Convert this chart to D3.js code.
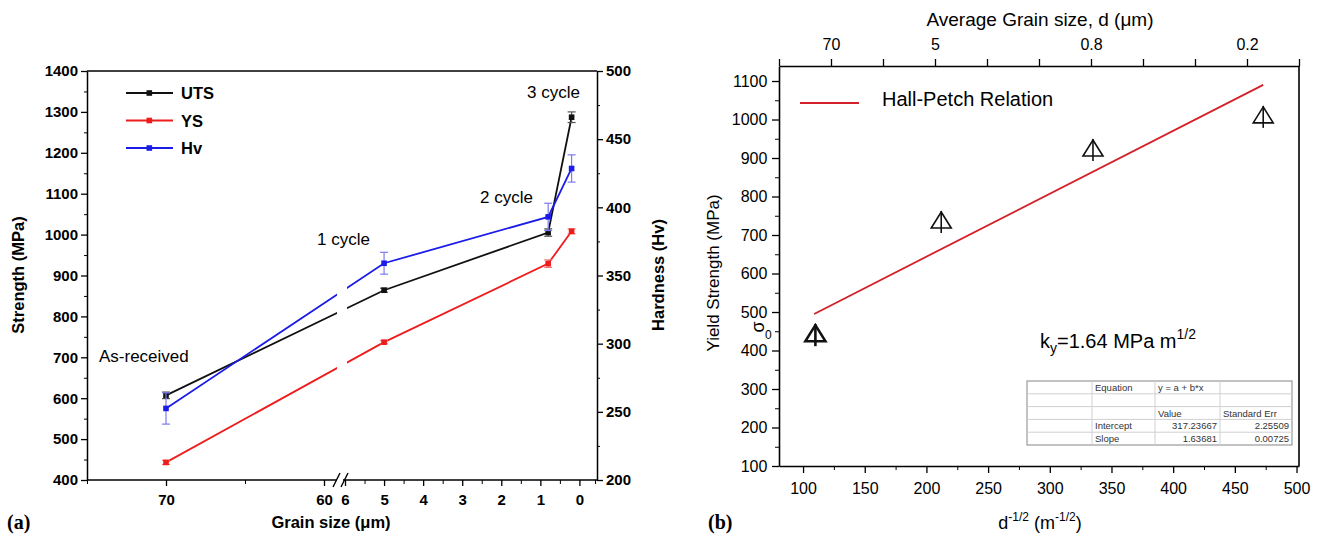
<!DOCTYPE html>
<html><head><meta charset="utf-8">
<script src="https://cdn.jsdelivr.net/npm/d3@7"></script>
<style>
body{margin:0;background:#fff;}
svg{display:block;font-family:Arial,"Liberation Sans",sans-serif;}
</style></head>
<body><svg id="c" width="1325" height="538"></svg>
<script>
// ---------- Data (a) ----------
const grainSizes = [70, 5, 0.8, 0.2];
const stageLabels = ["As-received", "1 cycle", "2 cycle", "3 cycle"];
const utsValues = [607, 864, 1005, 1287];
const utsErrors = [8, 5, 9, 13];
const ysValues = [443, 737, 929, 1008];
const ysErrors = [5, 4, 9, 6];
const hvValues = [252.5, 359, 393, 428.5];
const hvErrors = [11.5, 8, 10, 10];
const strengthTicks = [400,500,600,700,800,900,1000,1100,1200,1300,1400];
const hardnessTicks = [200,250,300,350,400,450,500];
const grainTicksLeft = [70, 60];
const grainTicksRight = [6,5,4,3,2,1,0];
// ---------- Data (b) ----------
const invSqrtD = [110, 212, 335, 473];
const yieldStrength = [445, 739, 926, 1012];
const fitX = [109, 473];
const fitY = [495, 1090];
const bottomTicks = [100,150,200,250,300,350,400,450,500];
const yTicksB = [100,200,300,400,500,600,700,800,900,1000,1100];
const topTickLabels = ["", "70", "", "5", "", "", "0.8", "", "", "0.2", ""];
const tableRows = [
  ["", "Equation", "y = a + b*x", ""],
  ["", "", "", ""],
  ["", "", "Value", "Standard Err"],
  ["", "Intercept", "317.23667", "2.25509"],
  ["", "Slope", "1.63681", "0.00725"]
];

const FONT = "Arial, 'Liberation Sans', sans-serif";
const svg = d3.select("#c");
const BOLD = "bold";
const fmt = d3.format("d");

function styleAxis(g, size, bold){
  g.attr("font-family", FONT);
  g.selectAll("text").attr("font-size", size).attr("font-weight", bold ? BOLD : null).attr("fill","#000");
  g.selectAll(".tick line").attr("stroke-width",1.3);
}

// ================= Chart (a) =================
const A = {l:87, r:597, t:71, b:480};
const xL = d3.scaleLinear().domain([75, 60]).range([87, 324]);
const xR = d3.scaleLinear().domain([6, -0.45]).range([345, 597]);
const xg = v => v >= 30 ? xL(v) : xR(v);
const yS = d3.scaleLinear().domain([400, 1400]).range([A.b, A.t]);
const yH = d3.scaleLinear().domain([200, 500]).range([A.b, A.t]);

const ga = svg.append("g");
ga.append("line").attr("x1",A.l).attr("x2",A.r).attr("y1",A.t).attr("y2",A.t).attr("stroke","#000").attr("stroke-width",1.5);
// left axis
const la = ga.append("g").attr("transform",`translate(${A.l},0)`)
  .call(d3.axisLeft(yS).tickValues(strengthTicks).tickFormat(fmt).tickSize(6).tickSizeOuter(0));
la.select(".domain").attr("stroke-width",1.5);
styleAxis(la, 15, true);
ga.append("g").attr("transform",`translate(${A.l},0)`)
  .call(d3.axisLeft(yS).tickValues(d3.range(450,1400,100)).tickSize(3).tickFormat("").tickSizeOuter(0))
  .select(".domain").remove();
// right axis
const ra = ga.append("g").attr("transform",`translate(${A.r},0)`)
  .call(d3.axisRight(yH).tickValues(hardnessTicks).tickFormat(fmt).tickSize(6).tickSizeOuter(0));
ra.select(".domain").attr("stroke-width",1.5);
styleAxis(ra, 15, true);
ga.append("g").attr("transform",`translate(${A.r},0)`)
  .call(d3.axisRight(yH).tickValues(d3.range(225,500,50)).tickSize(3).tickFormat("").tickSizeOuter(0))
  .select(".domain").remove();
// bottom axis (two segments with break)
const bl = ga.append("g").attr("transform",`translate(0,${A.b})`)
  .call(d3.axisBottom(xL).tickValues(grainTicksLeft).tickFormat(fmt).tickSize(6).tickSizeOuter(0));
bl.select(".domain").remove();
styleAxis(bl, 15, true);
bl.selectAll("text").attr("dy","1.05em");
ga.append("g").attr("transform",`translate(0,${A.b})`)
  .call(d3.axisBottom(xL).tickValues([75,65]).tickSize(4).tickFormat("")).select(".domain").remove();
const br = ga.append("g").attr("transform",`translate(0,${A.b})`)
  .call(d3.axisBottom(xR).tickValues(grainTicksRight).tickFormat(fmt).tickSize(6).tickSizeOuter(0));
br.select(".domain").remove();
styleAxis(br, 15, true);
br.selectAll("text").attr("dy","1.05em");
ga.append("g").attr("transform",`translate(0,${A.b})`)
  .call(d3.axisBottom(xR).tickValues([5.5,4.5,3.5,2.5,1.5,0.5,-0.4]).tickSize(4).tickFormat("")).select(".domain").remove();
ga.append("line").attr("x1",A.l).attr("x2",337).attr("y1",A.b).attr("y2",A.b).attr("stroke","#000").attr("stroke-width",1.5);
ga.append("line").attr("x1",343).attr("x2",A.r).attr("y1",A.b).attr("y2",A.b).attr("stroke","#000").attr("stroke-width",1.5);
[[333,487,340,473],[341,487,348,473]].forEach(s=>{
  ga.append("line").attr("x1",s[0]).attr("y1",s[1]).attr("x2",s[2]).attr("y2",s[3]).attr("stroke","#000").attr("stroke-width",1.4);
});

const defs = svg.append("defs");
const cp = defs.append("clipPath").attr("id","brk");
cp.append("rect").attr("x",0).attr("y",0).attr("width",337).attr("height",538);
cp.append("rect").attr("x",347).attr("y",0).attr("width",400).attr("height",538);

const seriesA = [
  {name:"UTS", color:"#111111", err:"#555555", vals:utsValues, errs:utsErrors, y:yS},
  {name:"YS",  color:"#ee1c1c", err:"#f07070", vals:ysValues, errs:ysErrors, y:yS},
  {name:"Hv",  color:"#1c1ce8", err:"#7c7cf0", vals:hvValues, errs:hvErrors, y:yH}
];
seriesA.forEach(s=>{
  const pts = grainSizes.map((g,i)=>[xg(g), s.y(s.vals[i])]);
  ga.append("path").attr("d", d3.line()(pts)).attr("fill","none").attr("stroke",s.color)
    .attr("stroke-width",1.8).attr("clip-path","url(#brk)");
  grainSizes.forEach((g,i)=>{
    const x = xg(g), y1 = s.y(s.vals[i]-s.errs[i]), y2 = s.y(s.vals[i]+s.errs[i]);
    ga.append("line").attr("x1",x).attr("x2",x).attr("y1",y1).attr("y2",y2).attr("stroke",s.err).attr("stroke-width",1.2);
    [y1,y2].forEach(yy=>ga.append("line").attr("x1",x-4).attr("x2",x+4).attr("y1",yy).attr("y2",yy).attr("stroke",s.err).attr("stroke-width",1.2));
    ga.append("rect").attr("x",x-2.8).attr("y",s.y(s.vals[i])-2.8).attr("width",5.6).attr("height",5.6).attr("fill",s.color);
  });
});
seriesA.forEach((s,i)=>{
  const y = 93 + i*27.5;
  ga.append("line").attr("x1",126).attr("x2",173).attr("y1",y).attr("y2",y).attr("stroke",s.color).attr("stroke-width",1.8);
  ga.append("rect").attr("x",146.5).attr("y",y-2.8).attr("width",5.6).attr("height",5.6).attr("fill",s.color);
  ga.append("text").attr("x",181).attr("y",y+6).attr("font-size",16.5).attr("font-weight",BOLD).text(s.name);
});
const annPos = [[99,362],[317,245],[480,203],[527,98]];
stageLabels.forEach((t,i)=>{
  ga.append("text").attr("x",annPos[i][0]).attr("y",annPos[i][1]).attr("font-size",17).text(t);
});
ga.append("text").attr("transform","translate(24,275) rotate(-90)").attr("text-anchor","middle")
  .attr("font-size",16.5).attr("font-weight",BOLD).text("Strength (MPa)");
ga.append("text").attr("transform","translate(664,275) rotate(-90)").attr("text-anchor","middle")
  .attr("font-size",16.5).attr("font-weight",BOLD).text("Hardness (Hv)");
ga.append("text").attr("x",331).attr("y",528).attr("text-anchor","middle")
  .attr("font-size",16.5).attr("font-weight",BOLD).text("Grain size (\u03bcm)");
ga.append("text").attr("x",7).attr("y",529).attr("font-family","'Liberation Serif','Times New Roman',serif")
  .attr("font-size",20).attr("font-weight",BOLD).text("(a)");

// ================= Chart (b) =================
const B = {l:779, r:1299, t:66, b:466};
const xB = d3.scaleLinear().domain([80.5, 502]).range([B.l, B.r]);
const yB = d3.scaleLinear().domain([100, 1139]).range([B.b, B.t]);
const gb = svg.append("g");
const lb = gb.append("g").attr("transform",`translate(${B.l},0)`)
  .call(d3.axisLeft(yB).tickValues(yTicksB).tickFormat(fmt).tickSize(7).tickSizeOuter(0));
lb.select(".domain").attr("stroke-width",1.6);
styleAxis(lb, 16, false);
lb.selectAll("text").attr("dx","-0.1em");
gb.append("g").attr("transform",`translate(${B.l},0)`)
  .call(d3.axisLeft(yB).tickValues(d3.range(150,1100,100)).tickSize(4).tickFormat("")).select(".domain").remove();
const bb = gb.append("g").attr("transform",`translate(0,${B.b})`)
  .call(d3.axisBottom(xB).tickValues(bottomTicks).tickFormat(fmt).tickSize(7).tickSizeOuter(0));
bb.select(".domain").attr("stroke-width",1.6);
styleAxis(bb, 16, false);
bb.selectAll("text").attr("dy","1.1em");
gb.append("g").attr("transform",`translate(0,${B.b})`)
  .call(d3.axisBottom(xB).tickValues(d3.range(125,500,50)).tickSize(4).tickFormat("")).select(".domain").remove();
const topVals = topTickLabels.map((_,i)=> xB.domain()[0] + i*(xB.domain()[1]-xB.domain()[0])/10);
const tb = gb.append("g").attr("transform",`translate(0,${B.t})`)
  .call(d3.axisTop(xB).tickValues(topVals).tickSize(7).tickSizeOuter(0).tickFormat((d,i)=>topTickLabels[i]));
tb.select(".domain").attr("stroke-width",1.6);
styleAxis(tb, 16, false);
tb.selectAll("text").attr("dy","-0.35em");
gb.append("line").attr("x1",B.r).attr("x2",B.r).attr("y1",B.t).attr("y2",B.b).attr("stroke","#000").attr("stroke-width",1.6);

gb.append("path").attr("d", d3.line()(fitX.map((x,i)=>[xB(x), yB(fitY[i])])))
  .attr("stroke","#d42028").attr("stroke-width",1.8).attr("fill","none");
invSqrtD.forEach((x,i)=>{
  const cx = xB(x), cy = yB(yieldStrength[i]);
  const sw = i===0 ? 2.6 : 1.6;
  gb.append("path").attr("d",`M${cx},${cy-8} L${cx+10},${cy+8} L${cx-10},${cy+8} Z`)
    .attr("fill","none").attr("stroke","#111").attr("stroke-width",sw).attr("stroke-linejoin","miter");
  gb.append("line").attr("x1",cx).attr("x2",cx).attr("y1",cy-9).attr("y2",cy+13).attr("stroke","#111").attr("stroke-width",sw);
});
gb.append("line").attr("x1",800).attr("x2",859).attr("y1",103).attr("y2",103).attr("stroke","#d42028").attr("stroke-width",1.8);
gb.append("text").attr("x",882).attr("y",106).attr("font-size",20).text("Hall-Petch Relation");
const kt = gb.append("text").attr("x",1040).attr("y",348).attr("font-size",20);
kt.append("tspan").text("k");
kt.append("tspan").attr("font-size",14).attr("dy",5).text("y");
kt.append("tspan").attr("dy",-5).text("=1.64 MPa m");
kt.append("tspan").attr("font-size",14).attr("dy",-9).text("1/2");
// sigma0
gb.append("text").attr("transform","translate(764,327) rotate(-90)").attr("text-anchor","middle").attr("font-size",18).text("\u03c3");
gb.append("text").attr("x",765).attr("y",339).attr("font-size",12).text("0");
gb.append("text").attr("transform","translate(719,273) rotate(-90)").attr("text-anchor","middle").attr("font-size",17).text("Yield Strength (MPa)");
const xt = gb.append("text").attr("x",1040).attr("y",529).attr("text-anchor","middle").attr("font-size",18);
xt.append("tspan").text("d");
xt.append("tspan").attr("font-size",12).attr("dy",-8).text("-1/2");
xt.append("tspan").attr("dy",8).text(" (m");
xt.append("tspan").attr("font-size",12).attr("dy",-8).text("-1/2");
xt.append("tspan").attr("dy",8).text(")");
gb.append("text").attr("x",1040).attr("y",26).attr("text-anchor","middle").attr("font-size",19).text("Average Grain size, d (\u03bcm)");
gb.append("text").attr("x",708).attr("y",529).attr("font-family","'Liberation Serif','Times New Roman',serif")
  .attr("font-size",20).attr("font-weight",BOLD).text("(b)");

const colX = [1027, 1092, 1155, 1220, 1292];
const rowY = d3.range(6).map(i=>381 + i*12.8);
const tg = gb.append("g");
tg.append("rect").attr("x",colX[0]).attr("y",rowY[0]).attr("width",colX[4]-colX[0]).attr("height",rowY[5]-rowY[0])
  .attr("fill","#fff").attr("stroke","#9a9a9a").attr("stroke-width",1.2);
rowY.slice(1,5).forEach(y=>tg.append("line").attr("x1",colX[0]).attr("x2",colX[4]).attr("y1",y).attr("y2",y).attr("stroke","#d0d0d0"));
colX.slice(1,4).forEach(x=>tg.append("line").attr("x1",x).attr("x2",x).attr("y1",rowY[0]).attr("y2",rowY[5]).attr("stroke","#d0d0d0"));
tableRows.forEach((row,ri)=>{
  row.forEach((t,ci)=>{
    if(!t) return;
    const numeric = ri>=3 && ci>=2;
    tg.append("text").attr("x", numeric ? colX[ci+1]-3 : colX[ci]+3).attr("y", rowY[ri]+10)
      .attr("text-anchor", numeric ? "end" : "start").attr("font-size",9.5).attr("fill","#333").text(t);
  });
});
</script></body></html>
